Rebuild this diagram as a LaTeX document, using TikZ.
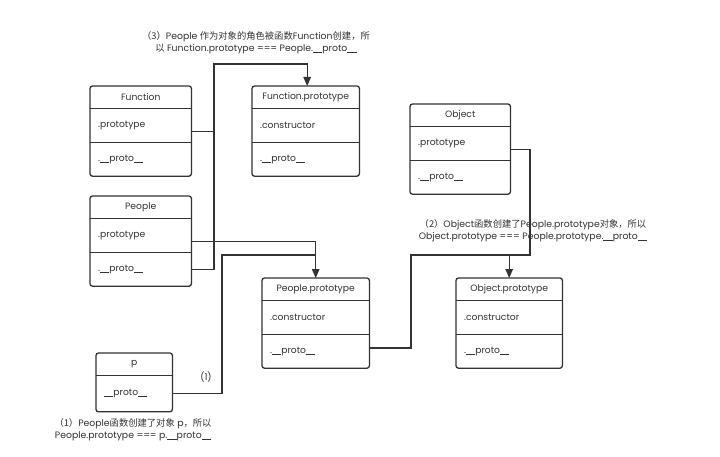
\documentclass[tikz,border=0pt]{standalone}
\usepackage{fontspec}
\setmainfont{Poppins}
\newfontfamily\cjk{Noto Sans CJK SC}
\usetikzlibrary{arrows.meta}
\definecolor{ink}{HTML}{333333}
\newcommand\usc{\rule[-1.3pt]{0.5em}{0.6pt}}
\newcommand\prt{\usc\usc proto\usc\usc}
\tikzset{
  boxline/.style={draw=ink, line width=1.3pt, rounded corners=2.5pt},
  sepline/.style={draw=ink, line width=1.3pt},
  hdr/.style={inner sep=0pt, minimum height=22pt, text=ink, font=\fontsize{9.2}{11}\selectfont},
  rowbox/.style={inner xsep=8pt, inner ysep=0pt, minimum height=#1, align=left, text=ink, font=\fontsize{9.2}{11}\selectfont},
  conn/.style={draw=ink, line width=1.4pt},
  arr/.style={conn, -{Triangle[length=9pt,width=7.5pt]}},
  note/.style={align=center, text=ink, inner sep=0pt, font=\fontsize{9.3}{12}\selectfont},
}
\begin{document}
\begin{tikzpicture}[x=1pt,y=-1pt]
\useasboundingbox (0,0) rectangle (720,457);
\fill[white] (0,0) rectangle (720,457);

% Function
\node[hdr, minimum width=101pt, anchor=north west] (Fh) at (90,86) {Function};
\node[rowbox=34pt, text width=85pt, anchor=north west] (Fr1) at (Fh.south west) {.prototype};
\node[rowbox=33pt, text width=85pt, anchor=north west] (Fr2) at (Fr1.south west) {.\prt};
\draw[boxline] (Fh.north west) rectangle (Fr2.south east);
\draw[sepline] (Fr1.north west) -- (Fr1.north east);
\draw[sepline] (Fr2.north west) -- (Fr2.north east);

% Function.prototype
\node[hdr, minimum width=107pt, anchor=north west] (FPh) at (252,86) {Function.prototype};
\node[rowbox=34pt, text width=91pt, anchor=north west] (FPr1) at (FPh.south west) {.constructor};
\node[rowbox=33pt, text width=91pt, anchor=north west] (FPr2) at (FPr1.south west) {.\prt};
\draw[boxline] (FPh.north west) rectangle (FPr2.south east);
\draw[sepline] (FPr1.north west) -- (FPr1.north east);
\draw[sepline] (FPr2.north west) -- (FPr2.north east);

% People
\node[hdr, minimum width=101pt, anchor=north west] (Ph) at (90,196) {People};
\node[rowbox=34pt, text width=85pt, anchor=north west] (Pr1) at (Ph.south west) {.prototype};
\node[rowbox=33pt, text width=85pt, anchor=north west] (Pr2) at (Pr1.south west) {.\prt};
\draw[boxline] (Ph.north west) rectangle (Pr2.south east);
\draw[sepline] (Pr1.north west) -- (Pr1.north east);
\draw[sepline] (Pr2.north west) -- (Pr2.north east);

% Object
\node[hdr, minimum width=100pt, anchor=north west] (Oh) at (410,104) {Object};
\node[rowbox=34pt, text width=84pt, anchor=north west] (Or1) at (Oh.south west) {.prototype};
\node[rowbox=33pt, text width=84pt, anchor=north west] (Or2) at (Or1.south west) {.\prt};
\draw[boxline] (Oh.north west) rectangle (Or2.south east);
\draw[sepline] (Or1.north west) -- (Or1.north east);
\draw[sepline] (Or2.north west) -- (Or2.north east);

% People.prototype
\node[hdr, minimum width=107pt, anchor=north west] (PPh) at (262,278) {People.prototype};
\node[rowbox=34pt, text width=91pt, anchor=north west] (PPr1) at (PPh.south west) {.constructor};
\node[rowbox=33pt, text width=91pt, anchor=north west] (PPr2) at (PPr1.south west) {.\prt};
\draw[boxline] (PPh.north west) rectangle (PPr2.south east);
\draw[sepline] (PPr1.north west) -- (PPr1.north east);
\draw[sepline] (PPr2.north west) -- (PPr2.north east);

% Object.prototype
\node[hdr, minimum width=106pt, anchor=north west] (OPh) at (456,278) {Object.prototype};
\node[rowbox=34pt, text width=90pt, anchor=north west] (OPr1) at (OPh.south west) {.constructor};
\node[rowbox=33pt, text width=90pt, anchor=north west] (OPr2) at (OPr1.south west) {.\prt};
\draw[boxline] (OPh.north west) rectangle (OPr2.south east);
\draw[sepline] (OPr1.north west) -- (OPr1.north east);
\draw[sepline] (OPr2.north west) -- (OPr2.north east);

% p
\node[hdr, minimum width=76pt, anchor=north west] (ph) at (96,353) {p};
\node[rowbox=36pt, text width=60pt, anchor=north west] (pr1) at (ph.south west) {\prt};
\draw[boxline] (ph.north west) rectangle (pr1.south east);
\draw[sepline] (pr1.north west) -- (pr1.north east);

% junction coordinates
\coordinate (j3) at (214,64);
\coordinate (j1) at (222,255);
\coordinate (j2) at (530,255);
\coordinate (j4) at (411,255);
\coordinate (fa) at ([yshift=-6pt]Fr1.east);
\coordinate (pa) at ([yshift=-6pt]Pr1.east);
\coordinate (oa) at ([yshift=-6pt]Or1.east);
\coordinate (ppb) at ([yshift=3.5pt]PPr2.east);

% (3) People.__proto__ -> Function.prototype, Function.prototype joins
\draw[arr] (Pr2.east) -| (j3) -| ([xshift=1.5pt]FPh.north);
\draw[conn] (fa) -- (fa -| j3);

% (1) People.prototype -> People.prototype, p.__proto__ joins
\draw[arr] (pa) -| (PPh.north);
\draw[conn] (pr1.east) -| (j1) -- (j1 -| PPh.north);

% (2) Object.prototype -> Object.prototype, People.prototype.__proto__ joins
\draw[arr] (oa) -| (j2) -| (OPh.north);
\draw[conn] (ppb) -| (j4) -- (j4 -| OPh.north);

% notes
\node[note] (n3) at (256,43) {{\cjk （3）}People {\cjk 作为对象的角色被函数}Function{\cjk 创建，所}\\{\cjk 以} Function.prototype === People.\prt};
\node[note] (n2) at (533,231) {{\cjk （2）}Object{\cjk 函数创建了}People.prototype{\cjk 对象，所以}\\Object.prototype === People.prototype.\prt};
\node[note] (n1) at (133,430) {{\cjk （1）}People{\cjk 函数创建了对象} p{\cjk ，所以}\\People.prototype === p.\prt};
\node[note] (l1) at (206,377) {(1)};
\end{tikzpicture}
\end{document}
